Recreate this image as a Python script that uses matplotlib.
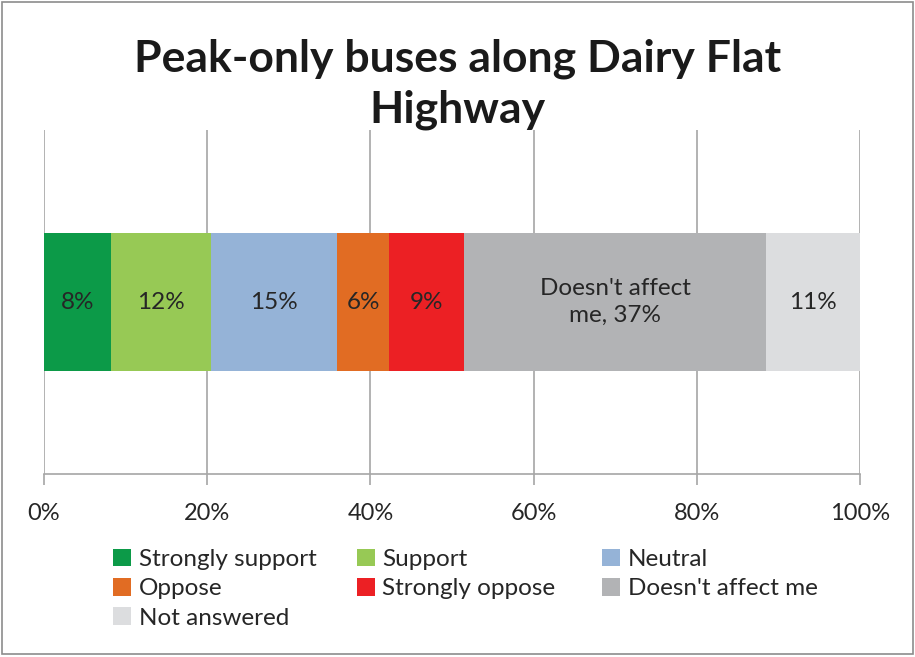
import matplotlib.pyplot as plt
from matplotlib.patches import Rectangle

plt.rcParams['font.family'] = ['Lato', 'DejaVu Sans']

categories = ["Strongly support", "Support", "Neutral", "Oppose",
              "Strongly oppose", "Doesn't affect me", "Not answered"]
values = [8.2, 12.3, 15.4, 6.4, 9.2, 37.0, 11.5]
labels = ["8%", "12%", "15%", "6%", "9%", "Doesn't affect\nme, 37%", "11%"]
colors = ["#0c9a48", "#97c955", "#95b3d7", "#e16c23", "#ec2024", "#b2b3b5", "#dcdddf"]
ticks = [0, 20, 40, 60, 80, 100]
tick_labels = ["0%", "20%", "40%", "60%", "80%", "100%"]

fig = plt.figure(figsize=(9.15, 6.57), dpi=100)
ax = fig.add_axes([0.048, 0.2785, 0.892, 0.5235])

total = sum(values)
left = 0
bars = []
for cat, v, lab, c in zip(categories, values, labels, colors):
    w = v / total * 100
    b = ax.barh(0, w, left=left, height=0.4, color=c, label=cat, zorder=3)
    bars.append(b)
    ax.text(left + w / 2, 0, lab, ha='center', va='center', fontsize=17.5,
            color='#262626', zorder=4, linespacing=1.35)
    left += w

ax.set_xlim(0, 100)
ax.set_ylim(-0.5, 0.5)
ax.set_xticks(ticks)
ax.set_xticklabels(tick_labels, fontsize=17, color='#262626')
ax.set_yticks([])
ax.grid(axis='x', color='#a6a6a6', linewidth=1.2, zorder=0)
for s in ['top', 'right', 'left']:
    ax.spines[s].set_visible(False)
ax.spines['bottom'].set_color('#a6a6a6')
ax.spines['bottom'].set_linewidth(1.2)
ax.tick_params(axis='x', length=8, width=1.2, color='#a6a6a6', pad=13)

fig.suptitle("Peak-only buses along Dairy Flat\nHighway", x=0.5, y=0.942,
             fontsize=32, fontweight='bold', color='#1a1a1a', linespacing=1.33)

# legend filled row by row, three columns with fixed positions
col_x = [0.1235, 0.390, 0.658]
for j in range(3):
    idx = list(range(j, len(categories), 3))
    leg = fig.legend([bars[i] for i in idx], [categories[i] for i in idx],
                     loc='upper left', bbox_to_anchor=(col_x[j], 0.165),
                     frameon=False, fontsize=17.5, handlelength=0.75, handleheight=0.75,
                     handletextpad=0.3, labelspacing=0.33,
                     borderaxespad=0, borderpad=0)
    for t in leg.get_texts():
        t.set_color('#262626')

fig.patches.append(Rectangle((0.002, 0.004), 0.996, 0.993, transform=fig.transFigure,
                             fill=False, edgecolor='#8c8c8c', linewidth=1.2))

fig.savefig('out.png', dpi=100)
